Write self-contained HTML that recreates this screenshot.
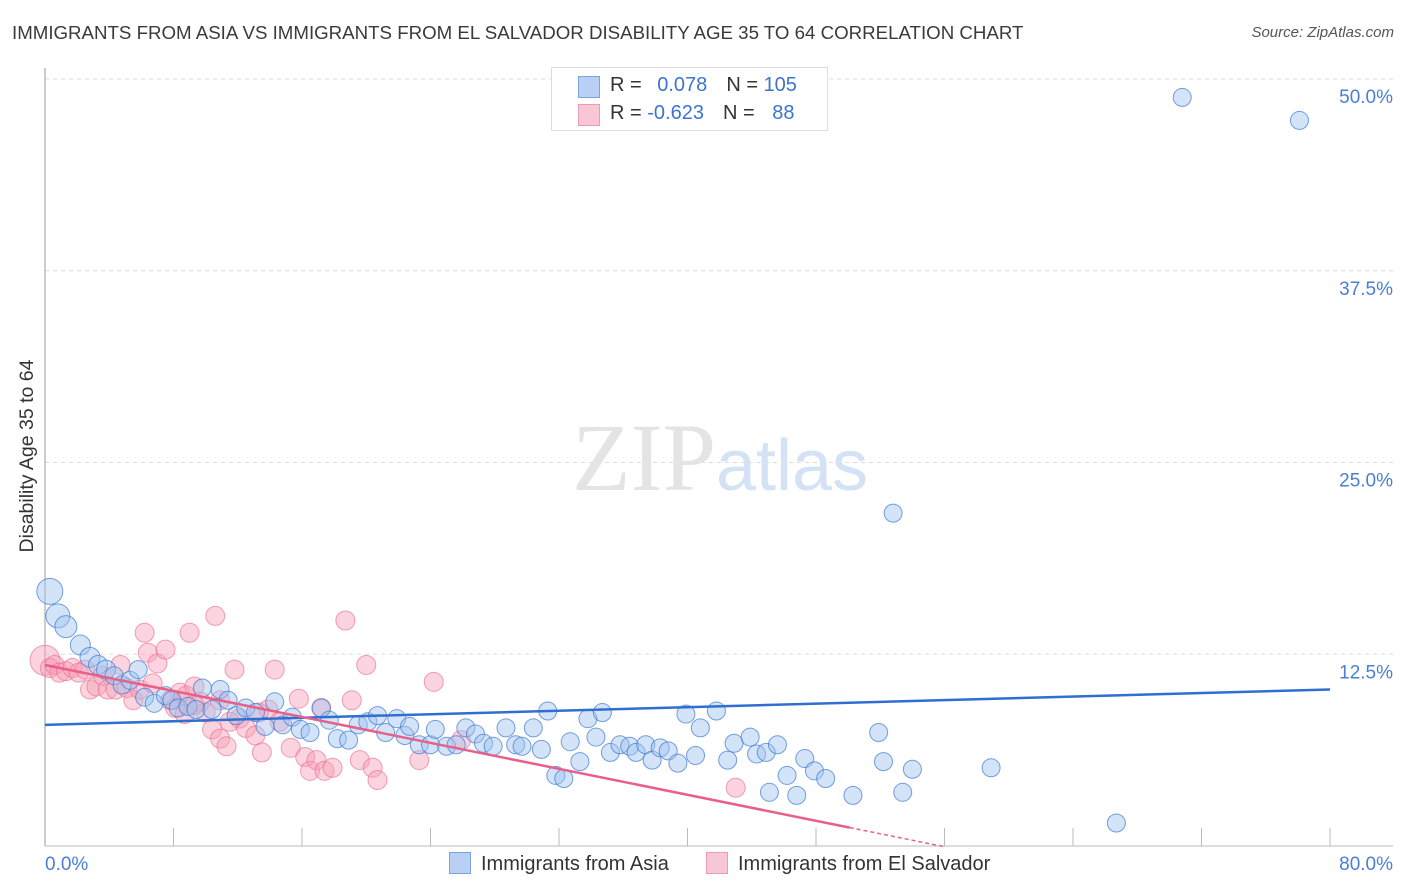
<!DOCTYPE html>
<html><head><meta charset="utf-8">
<style>
body{margin:0;background:#fff;font-family:"Liberation Sans",sans-serif;}
#wrap{position:relative;width:1406px;height:892px;overflow:hidden;}
.t{position:absolute;white-space:nowrap;}
</style></head>
<body>
<div id="wrap">
<div class="t" style="left:12px;top:22px;font-size:18.7px;color:#3a3a3a;">IMMIGRANTS FROM ASIA VS IMMIGRANTS FROM EL SALVADOR DISABILITY AGE 35 TO 64 CORRELATION CHART</div>
<div class="t" style="right:12px;top:24px;font-size:15px;color:#555;font-style:italic;">Source: ZipAtlas.com</div>
<svg id="svg" width="1406" height="892" style="position:absolute;left:0;top:0"></svg>
</div>
<script>
const xTicks=[0,80];
const yTicks=[12.5,25,37.5,50];
const yTickLabels=["12.5%","25.0%","37.5%","50.0%"];
const xTickLabels=["0.0%","80.0%"];
const blueX=[0.3,0.8,1.3,2.2,2.8,3.3,3.8,4.3,4.8,5.3,5.8,6.2,6.8,7.5,7.9,8.3,8.9,9.4,9.8,10.4,10.9,11.4,11.9,12.5,13.1,13.7,14.3,14.8,15.4,15.9,16.5,17.2,17.7,18.2,18.9,19.5,20.1,20.7,21.2,21.9,22.4,22.7,23.3,24.0,24.3,25.0,25.6,26.2,26.8,27.3,27.9,28.7,29.3,29.7,30.4,30.9,31.3,31.8,32.3,32.7,33.3,33.8,34.3,34.7,35.2,35.8,36.4,36.8,37.4,37.8,38.3,38.8,39.4,39.9,40.5,40.8,41.8,42.5,42.9,43.9,44.3,44.9,45.1,45.6,46.2,46.8,47.3,47.9,48.6,50.3,51.9,52.2,52.8,53.4,54.0,58.9,66.7,70.8,78.1];
const blueY=[16.6,15.0,14.3,13.1,12.3,11.8,11.5,11.1,10.5,10.8,11.5,9.7,9.3,9.8,9.5,9.0,9.1,8.9,10.3,8.9,10.2,9.5,8.5,9.0,8.7,7.8,9.4,7.9,8.4,7.6,7.4,9.0,8.2,7.0,6.9,7.9,8.1,8.5,7.4,8.3,7.2,7.8,6.6,6.6,7.6,6.5,6.6,7.7,7.3,6.7,6.5,7.7,6.6,6.5,7.7,6.3,8.8,4.6,4.4,6.8,5.5,8.3,7.1,8.7,6.1,6.6,6.5,6.1,6.6,5.6,6.4,6.2,5.4,8.6,5.9,7.7,8.8,5.6,6.7,7.1,6.0,6.1,3.5,6.6,4.6,3.3,5.7,4.9,4.4,3.3,7.4,5.5,21.7,3.5,5.0,5.1,1.5,48.8,47.3];
const blueBig=[13,12,11,10,10,9.5,9.5];
const pinkX=[0,0.3,0.6,0.9,1.3,1.7,2.1,2.5,2.8,3.2,3.6,3.9,4.4,4.7,5.1,5.5,5.9,6.2,6.4,6.7,7.0,7.5,7.8,8.1,8.4,8.8,9.0,9.3,9.7,10.0,10.4,10.6,10.9,11.3,11.8,12.1,12.5,13.1,13.5,13.9,14.3,14.6,15.3,15.8,16.2,16.5,16.9,17.4,17.9,18.7,19.1,19.6,20.0,20.4,20.7,23.3,24.2,25.9,43.0,8.7,10.9,9.3,13.3,11.5,17.2];
const pinkY=[12.1,11.6,11.8,11.3,11.4,11.6,11.3,11.5,10.2,10.4,11.1,10.2,10.2,11.8,10.3,9.5,10.2,13.9,12.6,10.6,11.9,12.8,9.5,9.0,10.0,9.8,13.9,10.4,9.4,8.7,7.6,15.0,7.0,6.5,11.5,8.3,7.7,7.2,6.1,8.9,11.5,8.1,6.4,9.6,5.8,4.9,5.6,4.9,5.1,14.7,9.5,5.6,11.8,5.1,4.3,5.6,10.7,6.9,3.8,8.6,9.5,9.2,8.7,8.1,9.0];
const blueTrend=[7.9,10.2];
const pinkTrend=[11.8,1.2];
const pinkSolidEnd=50.1, pinkDashEnd=56;
const X0=45,X1=1330,Y0=846,Y50=79;
const sx=v=>X0+(v/80)*(X1-X0);
const sy=v=>Y0-(v/50)*(Y0-Y50);
const svg=document.getElementById('svg');
const NS='http://www.w3.org/2000/svg';
function mk(tag,attrs,parent){const e=document.createElementNS(NS,tag);for(const k in attrs)e.setAttribute(k,attrs[k]);(parent||svg).appendChild(e);return e;}
yTicks.forEach((t,i)=>{
 const g=mk('line',{x1:X0,x2:1393,y1:sy(t),y2:sy(t),stroke:'#dcdcdc','stroke-dasharray':'4,4'});
 
 
 const l=mk('text',{x:1393,y:sy(t)+24,'text-anchor':'end','font-size':19,fill:'#4a7fd6','font-family':'Liberation Sans'});
 l.textContent=yTickLabels[i];
 
 
});
const ya=mk('line',{x1:X0,x2:X0,y1:68,y2:Y0,stroke:'#bbb','stroke-width':1.5});


const xa=mk('line',{x1:X0,x2:1393,y1:Y0,y2:Y0,stroke:'#bbb','stroke-width':1});


for(let i=0;i<=10;i++){const v=i*8;const tk=mk('line',{x1:sx(v),x2:sx(v),y1:Y0-18,y2:Y0,stroke:'#bbb'});
 
 }
xTicks.forEach((t,i)=>{const l=mk('text',{x:i==0?45:1393,y:870,'text-anchor':i==0?'start':'end','font-size':19,fill:'#4a7fd6','font-family':'Liberation Sans'});l.textContent=xTickLabels[i];
 
 });
const yt=mk('text',{x:33,y:456,transform:'rotate(-90 33 456)','text-anchor':'middle','font-size':19.5,fill:'#333','font-family':'Liberation Sans'});yt.textContent='Disability Age 35 to 64';


const wm=mk('text',{x:720,y:490,'text-anchor':'middle','font-size':96,'font-family':'Liberation Serif',fill:'#e4e4e4'});
wm.innerHTML='ZIP<tspan font-family="Liberation Sans" font-size="72" fill="#d4e2f6">atlas</tspan>';


pinkX.forEach((v,i)=>{const c=mk('circle',{cx:sx(v),cy:sy(pinkY[i]),r:i==0?15:9.5,fill:'rgba(246,160,185,0.45)',stroke:'rgba(235,110,145,0.65)','stroke-width':1});
 
 });
blueX.forEach((v,i)=>{const c=mk('circle',{cx:sx(v),cy:sy(blueY[i]),r:blueBig[i]||9,fill:'rgba(160,195,240,0.45)',stroke:'rgba(60,120,210,0.7)','stroke-width':1});
 
 });
const bt=mk('line',{x1:sx(0),y1:sy(blueTrend[0]),x2:sx(80),y2:sy(blueTrend[1]),stroke:'#2f6fd0','stroke-width':2.5});


const py=v=>pinkTrend[0]+(pinkTrend[1]-pinkTrend[0])*v/pinkSolidEnd;
const pt=mk('line',{x1:sx(0),y1:sy(pinkTrend[0]),x2:sx(pinkSolidEnd),y2:sy(pinkTrend[1]),stroke:'#e8608a','stroke-width':2.5});


const pd=mk('line',{x1:sx(pinkSolidEnd),y1:sy(pinkTrend[1]),x2:sx(pinkDashEnd),y2:sy(py(pinkDashEnd)),stroke:'#e8608a','stroke-width':1.5,'stroke-dasharray':'4,3'});


</script>
<div class="t" style="left:551px;top:67px;width:275px;height:62px;border:1px solid #ddd;background:#fff;font-size:20px;">
 <div style="position:absolute;left:26px;top:8px;width:20px;height:20px;background:#b7d0f3;border:1px solid #7aa4e0;"></div>
 <div style="position:absolute;left:58px;top:6px;color:#333;">R = <span style="color:#3b74d3;margin-left:10px">0.078</span><span style="color:#333;margin-left:19px">N = </span><span style="color:#3b74d3">105</span></div>
 <div style="position:absolute;left:26px;top:36px;width:20px;height:20px;background:#f8c7d6;border:1px solid #ee9ab4;"></div>
 <div style="position:absolute;left:58px;top:34px;color:#333;">R = <span style="color:#3b74d3">-0.623</span><span style="color:#333;margin-left:19px">N = </span><span style="color:#3b74d3;margin-left:12px">88</span></div>
</div>
<div class="t" style="left:449px;top:852px;font-size:20px;color:#333;"><span style="display:inline-block;width:20px;height:20px;background:#b7d0f3;border:1px solid #7aa4e0;vertical-align:-4px;margin-right:10px"></span>Immigrants from Asia</div>
<div class="t" style="left:706px;top:852px;font-size:20px;color:#333;"><span style="display:inline-block;width:20px;height:20px;background:#f8c7d6;border:1px solid #ee9ab4;vertical-align:-4px;margin-right:10px"></span>Immigrants from El Salvador</div>
</body></html>
